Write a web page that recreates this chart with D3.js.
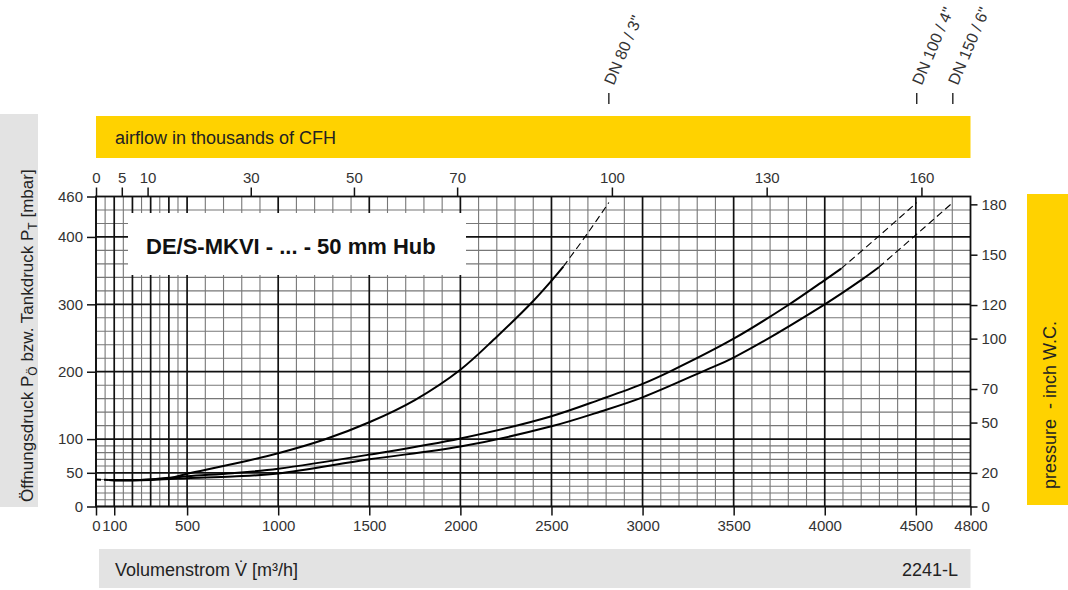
<!DOCTYPE html>
<html><head><meta charset="utf-8">
<script src="https://cdn.jsdelivr.net/npm/d3@7"></script>
<style>
body{margin:0;background:#fff;}
svg{display:block;font-family:"Liberation Sans",Arial,sans-serif;}
</style></head>
<body><svg id="c" width="1068" height="590"></svg>
<script>
// ---- data ----
const xTicks = [0,100,500,1000,1500,2000,2500,3000,3500,4000,4500,4800];
const yTicks = [0,50,100,200,300,400,460];
const cfhTicks = [0,5,10,30,50,70,100,130,160];
const wcTicks = [0,20,50,70,100,120,150,180];
const seriesNames = ['DN 80 / 3"','DN 100 / 4"','DN 150 / 6"'];
const leadIn = [[0,40],[70,39.5]];
const dn80Solid = [[70,39.5],[200,39],[300,40],[390,41.5],[500,48.5],[750,63],[1000,79],[1250,99],[1500,125],[1750,158],[2000,203],[2200,252],[2400,305],[2500,335],[2565,356]];
const dn80Dash = [[2565,356],[2700,406],[2815,451]];
const dn100Solid = [[70,39.5],[200,39],[300,40],[500,45],[750,49.5],[1000,56],[1500,77],[2000,101],[2500,134],[2770,159],[3000,182],[3155,201],[3500,249],[3800,299],[4000,336],[4090,353]];
const dn100Dash = [[4090,353],[4300,402],[4505,451]];
const dn150Solid = [[70,39.5],[200,39],[300,39.5],[500,42],[750,44.5],[1000,49],[1500,70],[2000,89],[2500,119],[2770,141],[3000,162],[3335,201],[3500,221],[4000,300],[4200,336],[4297,355]];
const dn150Dash = [[4297,355],[4500,403],[4703,451]];

const svg = d3.select('#c');
const YEL = '#ffd200', GRY = '#e3e3e3', TXT = '#333';
const x = d3.scaleLinear().domain([0,4800]).range([96,970.5]);
const y = d3.scaleLinear().domain([0,460]).range([506.5,196.5]);
const CFH = 35.3147/1000;
const xTop = d3.scaleLinear().domain([0,4800*CFH]).range([96,970.5]);
const WC = 2.49089;
const yR = d3.scaleLinear().domain([0,460/WC]).range([506.5,196.5]);

// bands
svg.append('rect').attr('x',0).attr('y',114).attr('width',38).attr('height',393).attr('fill',GRY);
svg.append('rect').attr('x',96).attr('y',116).attr('width',874.5).attr('height',42).attr('fill',YEL);
svg.append('rect').attr('x',1027).attr('y',194).attr('width',41).attr('height',311).attr('fill',YEL);
svg.append('rect').attr('x',99).attr('y',549).attr('width',871.5).attr('height',39).attr('fill',GRY);

svg.append('text').attr('x',115).attr('y',144).attr('font-size',18).attr('fill','#222').text('airflow in thousands of CFH');
svg.append('text').attr('transform','translate(1056,489) rotate(-90)').attr('font-size',18).attr('fill','#222')
  .attr('xml:space','preserve').text('pressure  - inch W.C.');
svg.append('text').attr('x',115).attr('y',576).attr('font-size',18).attr('fill','#222').text('Volumenstrom V\u0307 [m³/h]');
svg.append('text').attr('x',958).attr('y',576).attr('font-size',18).attr('fill','#222').attr('text-anchor','end').text('2241-L');

const lt = svg.append('text').attr('transform','translate(33,502) rotate(-90)').attr('font-size',17).attr('fill','#222');
lt.append('tspan').text('Öffnungsdruck P');
lt.append('tspan').attr('dy',4).attr('font-size',12).text('Ö');
lt.append('tspan').attr('dy',-4).text(' bzw. Tankdruck P');
lt.append('tspan').attr('dy',4).attr('font-size',12).text('T');
lt.append('tspan').attr('dy',-4).text(' [mbar]');

// grid
const g = svg.append('g');
const minorX = d3.range(50,500,100).concat(d3.range(600,4800,100).filter(v=>v%500!==0));
const majorX = d3.range(0,501,100).concat(d3.range(1000,4501,500));
const minorY = d3.range(10,100,10).filter(v=>v!==50).concat(d3.range(120,460,20).filter(v=>v%100!==0));
const majorY = [0,50,100,200,300,400];
g.selectAll('.mx').data(minorX).join('line').attr('x1',d=>x(d)).attr('x2',d=>x(d)).attr('y1',y(0)).attr('y2',y(460)).attr('stroke','#777').attr('stroke-width',1.1);
g.selectAll('.my').data(minorY).join('line').attr('y1',d=>y(d)).attr('y2',d=>y(d)).attr('x1',x(0)).attr('x2',x(4800)).attr('stroke','#777').attr('stroke-width',1.1);
g.selectAll('.Mx').data(majorX).join('line').attr('x1',d=>x(d)).attr('x2',d=>x(d)).attr('y1',y(0)).attr('y2',y(460)).attr('stroke','#111').attr('stroke-width',1.7);
g.selectAll('.My').data(majorY).join('line').attr('y1',d=>y(d)).attr('y2',d=>y(d)).attr('x1',x(0)).attr('x2',x(4800)).attr('stroke','#111').attr('stroke-width',1.7);

// title box
svg.append('rect').attr('x',128).attr('y',213).attr('width',338).attr('height',62).attr('fill','#fff');
svg.append('text').attr('x',146).attr('y',254).attr('font-size',22).attr('font-weight','bold').attr('fill','#111').text('DE/S-MKVI - ... - 50 mm Hub');

// frame
svg.append('rect').attr('x',x(0)).attr('y',y(460)).attr('width',x(4800)-x(0)).attr('height',y(0)-y(460))
  .attr('fill','none').attr('stroke','#111').attr('stroke-width',1.8);

// curves
const line = d3.line().x(d=>x(d[0])).y(d=>y(d[1])).curve(d3.curveCatmullRom.alpha(0.5));
const solids = [dn80Solid, dn100Solid, dn150Solid];
const dashes = [dn80Dash, dn100Dash, dn150Dash];
svg.append('path').attr('d',line(leadIn)).attr('fill','none').attr('stroke','#000').attr('stroke-width',2).attr('stroke-dasharray','5,3');
solids.forEach(s=>svg.append('path').attr('d',line(s)).attr('fill','none').attr('stroke','#000').attr('stroke-width',2));
dashes.forEach(s=>svg.append('path').attr('d',line(s)).attr('fill','none').attr('stroke','#000').attr('stroke-width',1.1).attr('stroke-dasharray','7,4'));

// axes
function styleAxis(sel){
  sel.select('.domain').remove();
  sel.selectAll('.tick line').attr('stroke','#111').attr('stroke-width',1.5);
  sel.selectAll('.tick text').attr('font-size',15).attr('fill',TXT).attr('font-family','"Liberation Sans",Arial,sans-serif');
}
svg.append('g').attr('transform',`translate(0,${y(0)})`).call(d3.axisBottom(x).tickValues(xTicks).tickSize(9).tickPadding(5).tickFormat(d3.format('d'))).call(styleAxis);
svg.append('g').attr('transform',`translate(${x(0)},0)`).call(d3.axisLeft(y).tickValues(yTicks).tickSize(9).tickPadding(4)).call(styleAxis);
svg.append('g').attr('transform',`translate(0,${y(460)})`).call(d3.axisTop(xTop).tickValues(cfhTicks).tickSize(9).tickPadding(5)).call(styleAxis);
svg.append('g').attr('transform',`translate(${x(4800)},0)`).call(d3.axisRight(yR).tickValues(wcTicks).tickSize(7).tickPadding(4)).call(styleAxis);

// DN labels at end of each curve
const ends = dashes.map(d=>d[d.length-1][0]);
ends.forEach((e,i)=>{
  const px = x(e);
  svg.append('line').attr('x1',px).attr('x2',px).attr('y1',93).attr('y2',104).attr('stroke','#111').attr('stroke-width',1.3);
  svg.append('text').attr('transform',`translate(${px+5},86) rotate(-67)`).attr('font-size',16).attr('fill',TXT).text(seriesNames[i]);
});
</script></body></html>
